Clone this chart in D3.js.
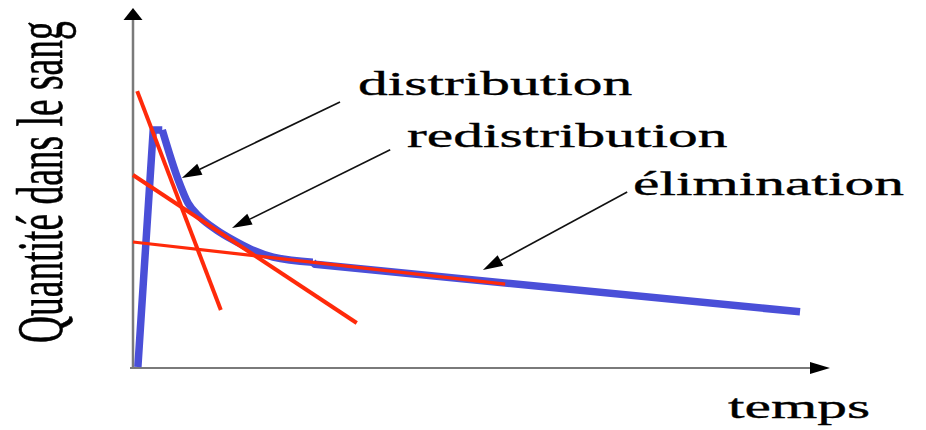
<!DOCTYPE html>
<html>
<head>
<meta charset="utf-8">
<script src="https://cdn.jsdelivr.net/npm/d3@7/dist/d3.min.js"></script>
<style>
  html, body { margin: 0; padding: 0; background: #fff; }
  svg { display: block; }
  text { font-family: "Liberation Serif", "Times New Roman", serif; fill: #000; stroke: #000; stroke-width: 0.35; }
</style>
</head>
<body>
<script>
// Blood concentration curve: time (0–100) vs quantity (0–100), arbitrary units
// Absorption: fast rise to the peak
const riseTime     = [0.7, 2.9, 4.2];
const riseQuantity = [0.3, 66.1, 66.1];
// Decay after the peak
const decayTime     = [4.2, 6.5, 7.9, 9.6, 12.0, 14.3, 16.8, 20.1, 25.8];
const decayQuantity = [66.1, 52.2, 45.8, 41.9, 38.3, 35.6, 33.1, 30.8, 29.4];
// Terminal elimination
const tailTime     = [25.8, 26.1, 95.7];
const tailQuantity = [29.4, 28.8, 15.6];

// Tangent lines for each phase: [startTime, endTime], [startQty, endQty]
const phaseNames = ["distribution", "redistribution", "élimination"];
const phaseTimes = [[0.6, 12.6], [0.0, 32.1], [0.0, 53.4]];
const phaseQty   = [[76.9, 16.1], [53.6, 12.5], [35.0, 23.3]];

// Annotation arrows: from label (tail) to the curve (tip)
const arrowTailTime = [29.7, 36.9, 70.9];
const arrowTailQty  = [73.9, 60.6, 48.9];
const arrowTipTime  = [7.0, 14.2, 50.2];
const arrowTipQty   = [52.8, 38.9, 27.2];

const xAxisLabel = "temps";
const yAxisLabel = "Quantité dans le sang";

const W = 926, H = 430;
const stretch = 1.75;       // horizontal glyph stretch
const fontSize = 34;

const svg = d3.select("body").append("svg").attr("width", W).attr("height", H);

const x = d3.scaleLinear().domain([0, 100]).range([133, 830]);
const y = d3.scaleLinear().domain([0, 100]).range([368, 8]);

// Axes with arrowheads
const axisColor = "#7a7a7a";
svg.append("line").attr("x1", x(0) - 3).attr("x2", x(100) - 18).attr("y1", y(0)).attr("y2", y(0))
  .attr("stroke", axisColor).attr("stroke-width", 2);
svg.append("line").attr("x1", x(0)).attr("x2", x(0)).attr("y1", y(0) + 1).attr("y2", y(100) + 10)
  .attr("stroke", axisColor).attr("stroke-width", 2.5);
svg.append("path")
  .attr("d", `M${x(100)},${y(0)} L${x(100) - 20},${y(0) - 6} L${x(100) - 20},${y(0) + 6} Z`)
  .attr("fill", "#000");
svg.append("path")
  .attr("d", `M${x(0)},${y(100)} L${x(0) - 9.5},${y(100) + 12} L${x(0) + 9.5},${y(100) + 12} Z`)
  .attr("fill", "#000");

// Concentration curve
const blue = "#4a4fd8";
const zip = (a, b) => a.map((v, i) => [v, b[i]]);
const drawCurve = (pts, curve) => svg.append("path")
  .datum(pts)
  .attr("d", d3.line().x(d => x(d[0])).y(d => y(d[1])).curve(curve))
  .attr("fill", "none")
  .attr("stroke", blue)
  .attr("stroke-width", 7.5)
  .attr("stroke-linejoin", "round")
  .attr("stroke-linecap", "butt");
drawCurve(zip(riseTime, riseQuantity), d3.curveLinear);
drawCurve(zip(decayTime, decayQuantity), d3.curveMonotoneX);
drawCurve(zip(tailTime, tailQuantity), d3.curveLinear);

// Phase tangent lines
const redWidths = [4, 4, 3.2];
phaseNames.forEach((name, i) => {
  svg.append("line")
    .attr("x1", x(phaseTimes[i][0])).attr("y1", y(phaseQty[i][0]))
    .attr("x2", x(phaseTimes[i][1])).attr("y2", y(phaseQty[i][1]))
    .attr("stroke", "#ff2a0a")
    .attr("stroke-width", redWidths[i]);
});

// Annotation arrows
phaseNames.forEach((name, i) => {
  const x1 = x(arrowTailTime[i]), y1 = y(arrowTailQty[i]);
  const x2 = x(arrowTipTime[i]),  y2 = y(arrowTipQty[i]);
  const ang = Math.atan2(y2 - y1, x2 - x1);
  const len = 20, half = 6;
  const bx = x2 - len * Math.cos(ang), by = y2 - len * Math.sin(ang);
  svg.append("line").attr("x1", x1).attr("y1", y1).attr("x2", bx).attr("y2", by)
    .attr("stroke", "#111").attr("stroke-width", 1.6);
  const px = -Math.sin(ang) * half, py = Math.cos(ang) * half;
  svg.append("path")
    .attr("d", `M${x2},${y2} L${bx + px},${by + py} L${bx - px},${by - py} Z`)
    .attr("fill", "#000");
});

// Phase labels
const labelPos = [[358, 95], [407, 147], [633, 195]];
phaseNames.forEach((name, i) => {
  svg.append("text")
    .attr("transform", `translate(${labelPos[i][0]},${labelPos[i][1]}) scale(${stretch},1)`)
    .attr("font-size", fontSize)
    .text(name);
});

// Axis titles
svg.append("text")
  .attr("transform", `translate(728,418) scale(${stretch},1)`)
  .attr("font-size", fontSize)
  .text(xAxisLabel);

svg.append("text")
  .attr("transform", `translate(62,343) scale(1.72,1) rotate(-90)`)
  .attr("font-size", 37.5)
  .text(yAxisLabel);
</script>
</body>
</html>
